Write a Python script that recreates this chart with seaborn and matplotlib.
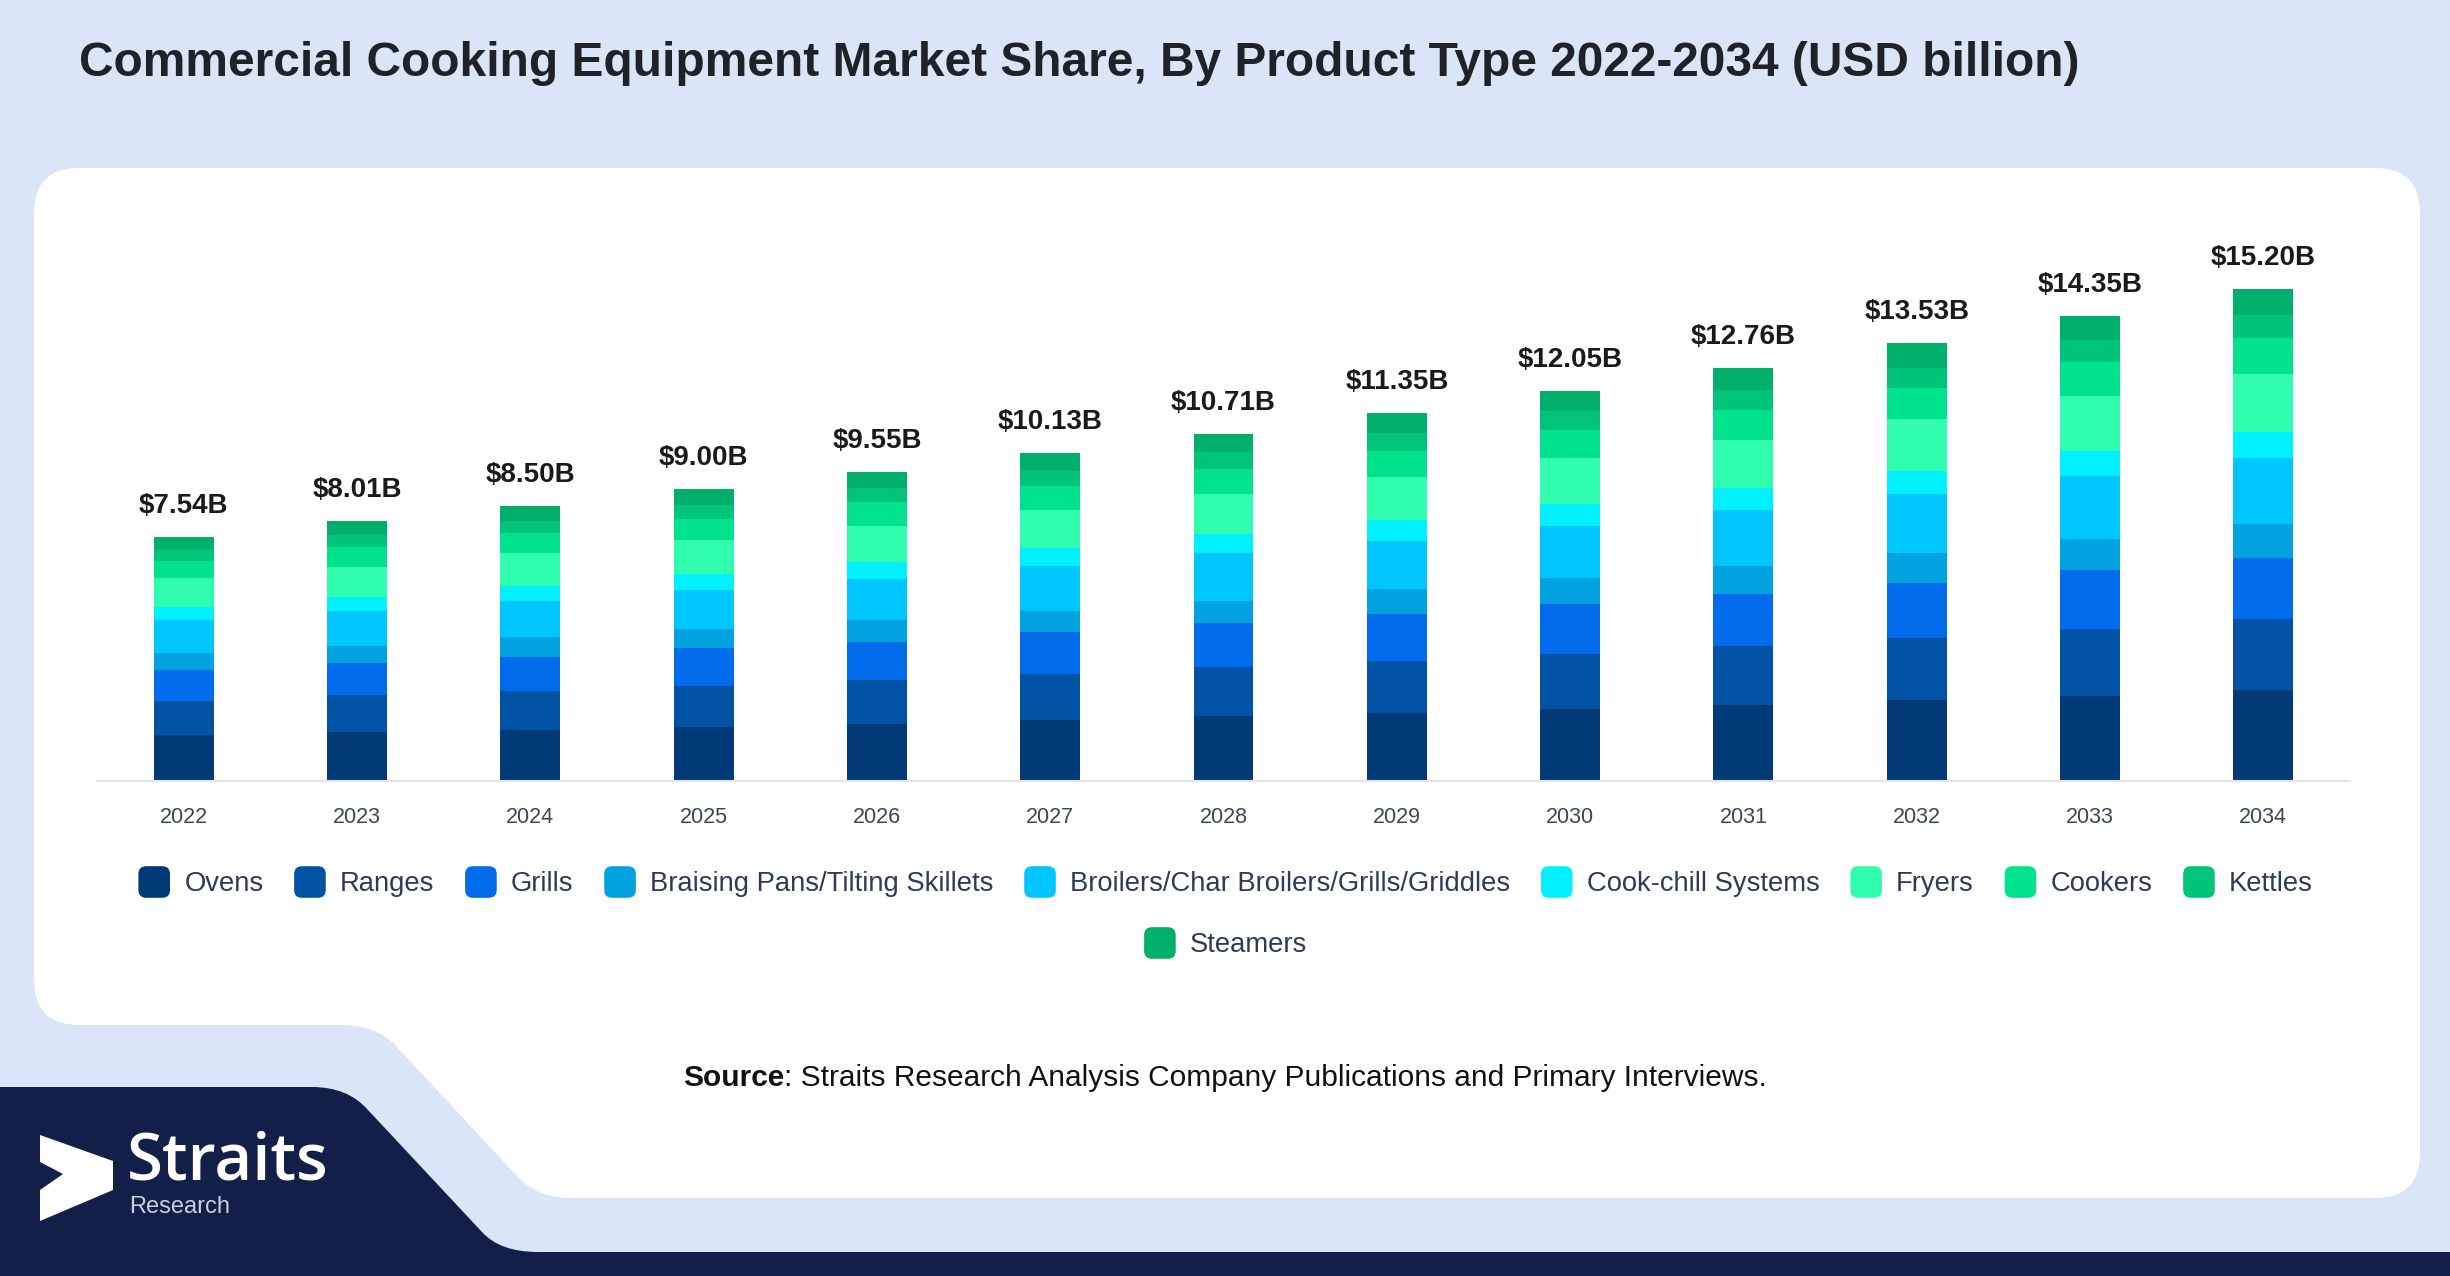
import numpy as np
import matplotlib
matplotlib.use("Agg")
import matplotlib.pyplot as plt
import seaborn as sns
from matplotlib.patches import FancyBboxPatch, Patch, PathPatch, Polygon
from matplotlib.path import Path
from matplotlib.legend_handler import HandlerBase
from matplotlib.offsetbox import TextArea, HPacker, AnnotationBbox

# --- data (USD billion) ---
years = [str(y) for y in range(2022, 2035)]
totals = [7.54, 8.01, 8.50, 9.00, 9.55, 10.13, 10.71, 11.35, 12.05, 12.76, 13.53, 14.35, 15.20]

ovens = [1.41, 1.51, 1.58, 1.67, 1.75, 1.88, 2.00, 2.10, 2.23, 2.35, 2.50, 2.63, 2.81]
ranges_ = [1.06, 1.13, 1.21, 1.27, 1.36, 1.42, 1.51, 1.61, 1.70, 1.82, 1.90, 2.06, 2.18]
grills = [0.96, 1.00, 1.05, 1.15, 1.19, 1.29, 1.36, 1.44, 1.52, 1.59, 1.72, 1.82, 1.89]
braising = [0.52, 0.54, 0.60, 0.60, 0.67, 0.67, 0.70, 0.79, 0.82, 0.87, 0.92, 0.96, 1.04]
broilers = [1.01, 1.06, 1.13, 1.21, 1.26, 1.37, 1.46, 1.48, 1.61, 1.72, 1.82, 1.93, 2.05]
cook_chill = [0.40, 0.43, 0.46, 0.49, 0.54, 0.56, 0.58, 0.64, 0.67, 0.68, 0.72, 0.78, 0.80]
fryers = [0.90, 0.95, 1.01, 1.05, 1.11, 1.18, 1.25, 1.31, 1.41, 1.49, 1.60, 1.69, 1.79]
cookers = [0.54, 0.59, 0.62, 0.66, 0.72, 0.73, 0.77, 0.82, 0.88, 0.92, 0.95, 1.06, 1.10]
kettles = [0.36, 0.38, 0.38, 0.41, 0.43, 0.48, 0.53, 0.54, 0.59, 0.62, 0.62, 0.67, 0.71]
steamers = [0.38, 0.42, 0.46, 0.49, 0.52, 0.55, 0.55, 0.62, 0.62, 0.70, 0.78, 0.75, 0.83]

names = ["Ovens", "Ranges", "Grills", "Braising Pans/Tilting Skillets",
         "Broilers/Char Broilers/Grills/Griddles", "Cook-chill Systems",
         "Fryers", "Cookers", "Kettles", "Steamers"]
series = [ovens, ranges_, grills, braising, broilers, cook_chill,
          fryers, cookers, kettles, steamers]
colors = ["#023A78", "#0052A5", "#006CEB", "#00A3E0", "#00C6FF",
          "#00F0FF", "#30FDAE", "#00E38C", "#00C479", "#00AF6A"]

title = "Commercial Cooking Equipment Market Share, By Product Type 2022-2034 (USD billion)"

W, H = 2450, 1276
BG = "#DAE6F8"
NAVY = "#121F48"

sns.set_theme(style="white")
plt.rcParams["font.family"] = ["Liberation Sans", "DejaVu Sans"]

fig = plt.figure(figsize=(W / 100, H / 100), dpi=100)
fig.patch.set_facecolor(BG)

# background layer in pixel coordinates
bg = fig.add_axes([0, 0, 1, 1])
bg.set_xlim(0, W)
bg.set_ylim(H, 0)
bg.axis("off")
bg.set_zorder(-1)

# white card with the cut-out at bottom-left
R = 45
card = [
    ((34 + R, 168), Path.MOVETO),
    ((2420 - R, 168), Path.LINETO),
    ((2420, 168), Path.CURVE3), ((2420, 168 + R), Path.CURVE3),
    ((2420, 1198 - R), Path.LINETO),
    ((2420, 1198), Path.CURVE3), ((2420 - R, 1198), Path.CURVE3),
    ((570, 1198), Path.LINETO),
    ((537, 1198), Path.CURVE3), ((517, 1176), Path.CURVE3),
    ((395, 1045), Path.LINETO),
    ((376, 1025), Path.CURVE3), ((342, 1025), Path.CURVE3),
    ((34 + R, 1025), Path.LINETO),
    ((34, 1025), Path.CURVE3), ((34, 1025 - R), Path.CURVE3),
    ((34, 168 + R), Path.LINETO),
    ((34, 168), Path.CURVE3), ((34 + R, 168), Path.CURVE3),
    ((34 + R, 168), Path.CLOSEPOLY),
]
verts, codes = zip(*card)
bg.add_patch(PathPatch(Path(verts, codes), facecolor="white", edgecolor="none"))

# navy footer shape
navy = [
    ((0, 1087), Path.MOVETO),
    ((312, 1087), Path.LINETO),
    ((348, 1087), Path.CURVE3), ((368, 1110), Path.CURVE3),
    ((482, 1232), Path.LINETO),
    ((500, 1252), Path.CURVE3), ((538, 1252), Path.CURVE3),
    ((W, 1252), Path.LINETO),
    ((W, H), Path.LINETO),
    ((0, H), Path.LINETO),
    ((0, 1087), Path.CLOSEPOLY),
]
verts, codes = zip(*navy)
bg.add_patch(PathPatch(Path(verts, codes), facecolor=NAVY, edgecolor="none"))

# logo
arrow = [(40, 1135), (113, 1161), (113, 1190), (40, 1221), (40, 1190), (63, 1174), (40, 1162)]
bg.add_patch(Polygon(arrow, closed=True, facecolor="white", edgecolor="none"))
bg.text(127, 1179, "Straits", fontsize=47, color="white", fontweight="semibold",
        family=["Open Sans", "DejaVu Sans"], va="baseline", ha="left")
bg.text(129, 1196, "Research", fontsize=17, color="#C9CFDD",
        va="top", ha="left")

# title
bg.text(79, 64, title, fontsize=34.5, fontweight="bold", color="#1F2328",
        va="center", ha="left")

# source line
src = HPacker(children=[
    TextArea("Source", textprops=dict(fontsize=21.5, fontweight="bold", color="#111111")),
    TextArea(": Straits Research Analysis Company Publications and Primary Interviews.",
             textprops=dict(fontsize=21.5, color="#111111")),
], align="baseline", pad=0, sep=0)
bg.add_artist(AnnotationBbox(src, (1225, 1078), xycoords="data", frameon=False,
                             box_alignment=(0.5, 0.5)))

# --- chart ---
px_per_unit = 32.4
ax_top = 200
ax = fig.add_axes([97 / W, (H - 781) / H, 2253 / W, (781 - ax_top) / H])
ax.set_zorder(1)
ax.patch.set_alpha(0)

cum = np.cumsum(np.array(series), axis=0)
for i in reversed(range(len(names))):
    sns.barplot(x=years, y=cum[i], color=colors[i], width=0.346, saturation=1,
                errorbar=None, edgecolor="none", linewidth=0, ax=ax)

for i, tot in enumerate(totals):
    ax.annotate(f"${tot:.2f}B", (i, cum[-1][i]), xytext=(0, 18), textcoords="offset pixels",
                ha="center", va="bottom", fontsize=20, fontweight="bold", color="#1A1A1A")

ax.set_xlim(-0.5, 12.5)
ax.set_ylim(0, (781 - ax_top) / px_per_unit)
ax.set_xlabel("")
ax.set_ylabel("")
ax.set_yticks([])
ax.tick_params(axis="x", length=0, pad=19, labelsize=15.5, labelcolor="#3B4754")
for s in ["top", "left", "right"]:
    ax.spines[s].set_visible(False)
ax.spines["bottom"].set_color("#E2E4E8")
ax.spines["bottom"].set_linewidth(1.5)


class RoundedHandle(HandlerBase):
    def create_artists(self, legend, orig_handle, xdescent, ydescent, width, height, fontsize, trans):
        side = min(width, height)
        box = FancyBboxPatch((-xdescent + (width - side) / 2, -ydescent + (height - side) / 2),
                             side, side, boxstyle=f"round,pad=0,rounding_size={side * 0.25}",
                             facecolor=orig_handle.get_facecolor(), edgecolor="none",
                             transform=trans)
        return [box]


handles = [Patch(facecolor=c, label=n) for n, c in zip(names, colors)]
leg_kw = dict(loc="center", frameon=False, fontsize=19.7, handlelength=1.4, handleheight=1.4,
              handletextpad=0.4, columnspacing=1.0, borderpad=0, borderaxespad=0,
              labelcolor="#2E3A59", handler_map={Patch: RoundedHandle()})
fig.legend(handles=handles[:9], ncol=9, bbox_to_anchor=(1224 / W, 1 - 882 / H), **leg_kw)
fig.legend(handles=handles[9:], ncol=1, bbox_to_anchor=(1224 / W, 1 - 943 / H), **leg_kw)

fig.savefig("out.png", dpi=100, facecolor=fig.get_facecolor())
